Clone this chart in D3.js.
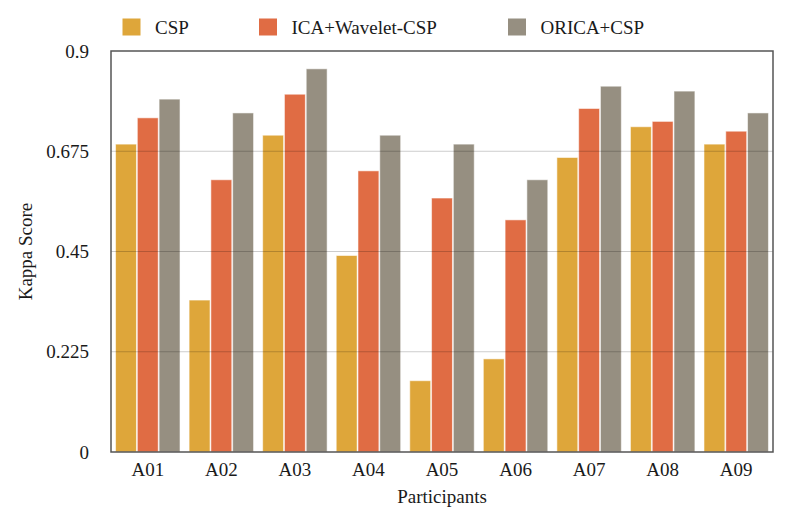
<!DOCTYPE html>
<html>
<head>
<meta charset="utf-8">
<script src="https://cdn.jsdelivr.net/npm/d3@7"></script>
<style>
  html, body { margin: 0; padding: 0; background: #fff; }
  svg { display: block; }
  text { font-family: "Liberation Serif", "Times New Roman", serif; fill: #1a1a1a; }
</style>
</head>
<body>
<svg id="chart" width="794" height="523"></svg>
<script>
const participants = ["A01", "A02", "A03", "A04", "A05", "A06", "A07", "A08", "A09"];
const seriesNames = ["CSP", "ICA+Wavelet-CSP", "ORICA+CSP"];
const cspValues = [0.691, 0.341, 0.711, 0.441, 0.160, 0.209, 0.661, 0.730, 0.691];
const icaWaveletValues = [0.750, 0.611, 0.803, 0.631, 0.570, 0.521, 0.771, 0.742, 0.720];
const oricaValues = [0.792, 0.761, 0.860, 0.711, 0.691, 0.611, 0.821, 0.810, 0.761];
const yTicks = [0, 0.225, 0.45, 0.675, 0.9];
const yTickLabels = ["0", "0.225", "0.45", "0.675", "0.9"];
const colors = ["#DEA63A", "#E06C44", "#968F81"];

const seriesValues = [cspValues, icaWaveletValues, oricaValues];
const data = participants.map((p, i) => ({
  participant: p,
  values: seriesNames.map((s, j) => ({ series: s, value: seriesValues[j][i] }))
}));

const svg = d3.select("#chart");
const margin = { left: 111, right: 21, top: 51, bottom: 71 };
const W = 794, H = 523;
const plotW = W - margin.left - margin.right;
const plotH = H - margin.top - margin.bottom;

const x0 = d3.scaleBand().domain(participants).range([0, plotW]).paddingInner(0.1).paddingOuter(0.05);
const x1 = d3.scaleBand().domain(seriesNames).range([0, x0.bandwidth()]).padding(0.04);
const y = d3.scaleLinear().domain([0, 0.9]).range([plotH, 0]);
const color = d3.scaleOrdinal().domain(seriesNames).range(colors);

const g = svg.append("g").attr("transform", `translate(${margin.left},${margin.top})`);

// bars
const groups = g.selectAll(".grp").data(data).join("g")
  .attr("class", "grp")
  .attr("transform", d => `translate(${x0(d.participant)},0)`);
groups.selectAll("rect").data(d => d.values).join("rect")
  .attr("x", d => x1(d.series))
  .attr("y", d => y(d.value))
  .attr("width", x1.bandwidth())
  .attr("height", d => plotH - y(d.value))
  .attr("fill", d => color(d.series))
  .attr("stroke", "rgba(255,255,255,0.55)")
  .attr("stroke-width", 1);

// gridlines on top
g.selectAll(".grid").data(yTicks.filter(t => t > 0 && t < 0.9)).join("line")
  .attr("class", "grid")
  .attr("x1", 0).attr("x2", plotW)
  .attr("y1", d => y(d)).attr("y2", d => y(d))
  .attr("stroke", "rgba(0,0,0,0.2)")
  .attr("stroke-width", 1.2);

// y axis
const yAxis = d3.axisLeft(y).tickValues(yTicks)
  .tickFormat((d, i) => yTickLabels[i]).tickSize(0).tickPadding(22);
const ya = g.append("g").call(yAxis);
ya.select(".domain").remove();
ya.selectAll("text").attr("font-size", 19).style("font-family", '"Liberation Serif", serif').attr("fill", "#1a1a1a");

// x axis
const xAxis = d3.axisBottom(x0).tickSize(0).tickPadding(11);
const xa = g.append("g").attr("transform", `translate(0,${plotH})`).call(xAxis);
xa.select(".domain").remove();
xa.selectAll("text").attr("font-size", 19).style("font-family", '"Liberation Serif", serif').attr("fill", "#1a1a1a");

// border
g.append("rect")
  .attr("x", 0).attr("y", 0).attr("width", plotW).attr("height", plotH)
  .attr("fill", "none").attr("stroke", "#555").attr("stroke-width", 1.5);

// axis titles
svg.append("text")
  .attr("x", margin.left + plotW / 2).attr("y", 503)
  .attr("text-anchor", "middle").attr("font-size", 19)
  .text("Participants");
svg.append("text")
  .attr("transform", `translate(32,${margin.top + plotH / 2}) rotate(-90)`)
  .attr("text-anchor", "middle").attr("font-size", 19)
  .text("Kappa Score");

// legend
const legendX = [122.5, 259, 508];
const leg = svg.append("g").selectAll("g").data(seriesNames).join("g")
  .attr("transform", (d, i) => `translate(${legendX[i]},18.5)`);
leg.append("rect").attr("width", 18).attr("height", 17).attr("fill", d => color(d));
leg.append("text").attr("x", 32.5).attr("y", 15.5).attr("font-size", 19).text(d => d);
</script>
</body>
</html>
